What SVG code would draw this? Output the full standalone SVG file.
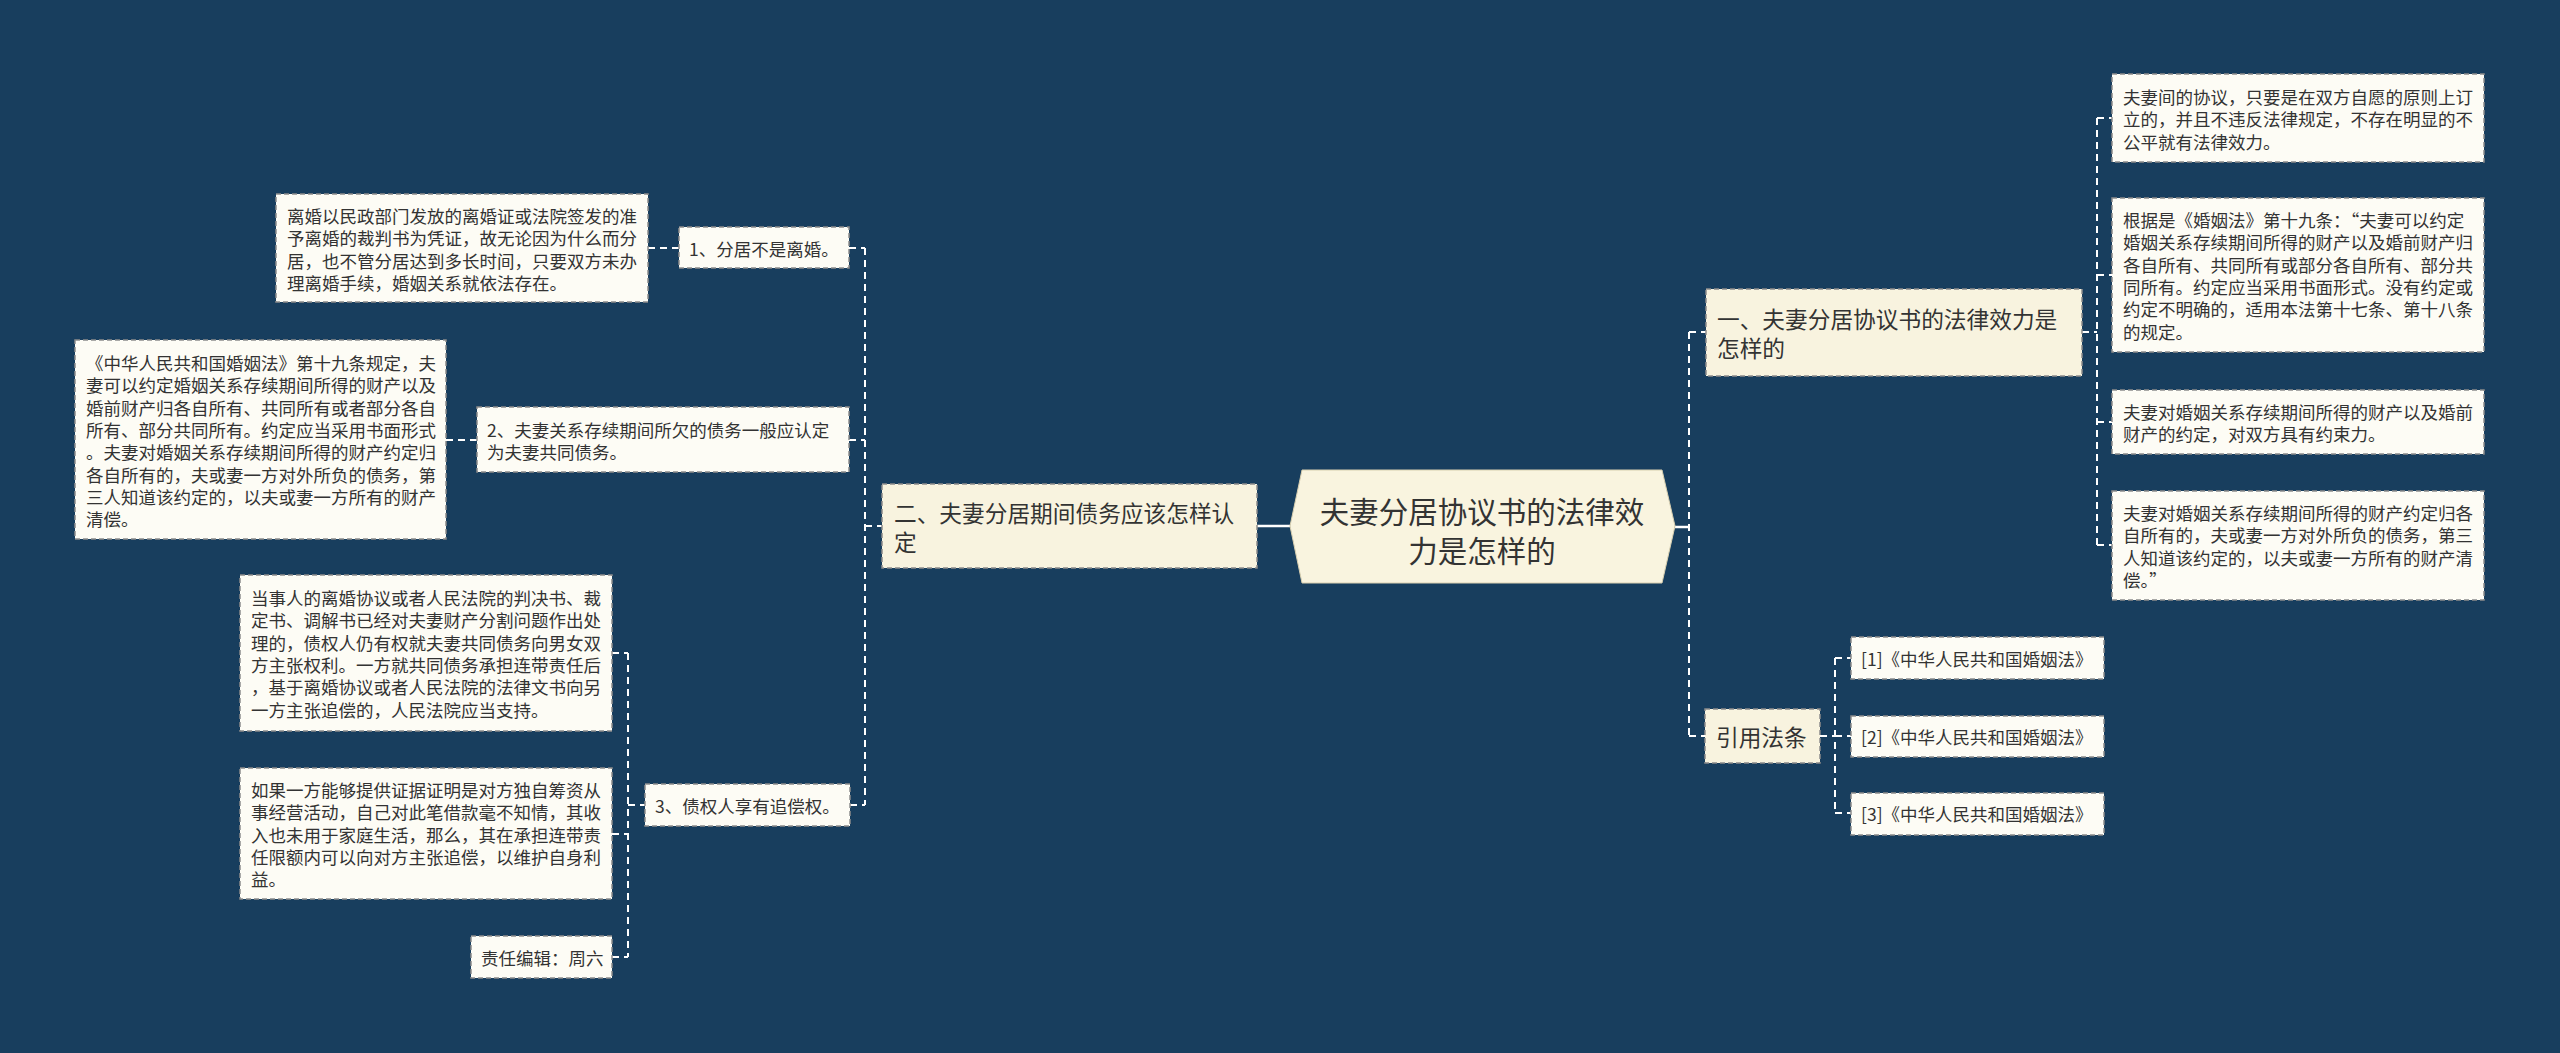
<svg xmlns="http://www.w3.org/2000/svg" width="2560" height="1053" viewBox="0 0 2560 1053">
<style>
.bg{fill:#183e5e}
.leaf{fill:#fdfcf5;stroke:#8c8c8c;stroke-width:1.5;stroke-dasharray:5 3}
.branch{fill:#f8f3df;stroke:#8c8c8c;stroke-width:1.5;stroke-dasharray:5 3}
.root{fill:#f9f4df;stroke:#d8cfb0;stroke-width:1}
text{font-family:"Noto Sans CJK SC","Noto Sans",sans-serif;fill:#333;dominant-baseline:central}
.t{font-size:17.5px}
.b{font-size:22.7px}
.r{font-size:29.5px}
.con path{fill:none;stroke:#ffffff;stroke-width:2;stroke-dasharray:7 5}
.con path.solid{stroke-dasharray:none;stroke-width:2.5}
</style>
<rect class="bg" x="0" y="0" width="2560" height="1053"/>
<g class="con" id="connectors">
<path d="M648 248H679"/>
<path d="M446 440H477"/>
<path d="M849 248H865M849 440H865M850 805H865M865 248V805M865 526H882"/>
<path class="solid" d="M1257 526H1290"/>
<path d="M612 653H628M612 834H628M612 957H628M628 653V957M628 805H645"/>
<path class="solid" d="M1675 527H1689"/>
<path d="M1689 332V736M1689 332H1706M1689 736H1705"/>
<path d="M2082 332H2097M2097 118V545M2097 118H2112M2097 275H2112M2097 422H2112M2097 545H2112"/>
<path d="M1820 736H1835M1835 658V813M1835 658H1851M1835 736H1851M1835 813H1851"/>
</g>
<g id="root">
<polygon class="root" points="1290,526 1302,470 1662,470 1675,526 1662,583 1302,583"/>
<text class="r" text-anchor="middle"><tspan x="1482" y="510">夫妻分居协议书的法律效</tspan><tspan x="1482" y="548.5">力是怎样的</tspan></text>
</g>
<g id="branch2">
<rect class="branch" x="882" y="484" width="375" height="84"/>
<text class="b" x="894"><tspan x="894" y="512">二、夫妻分居期间债务应该怎样认</tspan><tspan x="894" y="541">定</tspan></text>
</g>
<g id="sub1">
<rect class="leaf" x="679" y="227" width="170" height="41"/>
<text class="t" x="689" y="248">1、分居不是离婚。</text>
</g>
<g id="leaf1">
<rect class="leaf" x="276" y="194" width="372" height="108"/>
<text class="t"><tspan x="287" y="215">离婚以民政部门发放的离婚证或法院签发的准</tspan><tspan x="287" y="237.3">予离婚的裁判书为凭证，故无论因为什么而分</tspan><tspan x="287" y="259.6">居，也不管分居达到多长时间，只要双方未办</tspan><tspan x="287" y="281.9">理离婚手续，婚姻关系就依法存在。</tspan></text>
</g>
<g id="sub2">
<rect class="leaf" x="477" y="407" width="372" height="65"/>
<text class="t"><tspan x="487" y="429">2、夫妻关系存续期间所欠的债务一般应认定</tspan><tspan x="487" y="451.3">为夫妻共同债务。</tspan></text>
</g>
<g id="leaf2">
<rect class="leaf" x="75" y="340" width="371" height="199"/>
<text class="t"><tspan x="86" y="362">《中华人民共和国婚姻法》第十九条规定，夫</tspan><tspan x="86" y="384.3">妻可以约定婚姻关系存续期间所得的财产以及</tspan><tspan x="86" y="406.6">婚前财产归各自所有、共同所有或者部分各自</tspan><tspan x="86" y="428.9">所有、部分共同所有。约定应当采用书面形式</tspan><tspan x="86" y="451.2">。夫妻对婚姻关系存续期间所得的财产约定归</tspan><tspan x="86" y="473.5">各自所有的，夫或妻一方对外所负的债务，第</tspan><tspan x="86" y="495.8">三人知道该约定的，以夫或妻一方所有的财产</tspan><tspan x="86" y="518.1">清偿。</tspan></text>
</g>
<g id="sub3">
<rect class="leaf" x="645" y="784" width="205" height="42"/>
<text class="t" x="655" y="805">3、债权人享有追偿权。</text>
</g>
<g id="leaf3a">
<rect class="leaf" x="240" y="575" width="372" height="156"/>
<text class="t"><tspan x="251" y="597">当事人的离婚协议或者人民法院的判决书、裁</tspan><tspan x="251" y="619.3">定书、调解书已经对夫妻财产分割问题作出处</tspan><tspan x="251" y="641.6">理的，债权人仍有权就夫妻共同债务向男女双</tspan><tspan x="251" y="663.9">方主张权利。一方就共同债务承担连带责任后</tspan><tspan x="251" y="686.2">，基于离婚协议或者人民法院的法律文书向另</tspan><tspan x="251" y="708.5">一方主张追偿的，人民法院应当支持。</tspan></text>
</g>
<g id="leaf3b">
<rect class="leaf" x="240" y="768" width="372" height="131"/>
<text class="t"><tspan x="251" y="789">如果一方能够提供证据证明是对方独自筹资从</tspan><tspan x="251" y="811.3">事经营活动，自己对此笔借款毫不知情，其收</tspan><tspan x="251" y="833.6">入也未用于家庭生活，那么，其在承担连带责</tspan><tspan x="251" y="855.9">任限额内可以向对方主张追偿，以维护自身利</tspan><tspan x="251" y="878.2">益。</tspan></text>
</g>
<g id="editor">
<rect class="leaf" x="471" y="936" width="141" height="42"/>
<text class="t" x="481" y="957">责任编辑：周六</text>
</g>
<g id="branch1">
<rect class="branch" x="1706" y="289" width="376" height="87"/>
<text class="b"><tspan x="1717" y="318">一、夫妻分居协议书的法律效力是</tspan><tspan x="1717" y="347">怎样的</tspan></text>
</g>
<g id="r1">
<rect class="leaf" x="2112" y="74" width="372" height="88"/>
<text class="t"><tspan x="2123" y="96">夫妻间的协议，只要是在双方自愿的原则上订</tspan><tspan x="2123" y="118.3">立的，并且不违反法律规定，不存在明显的不</tspan><tspan x="2123" y="140.6">公平就有法律效力。</tspan></text>
</g>
<g id="r2">
<rect class="leaf" x="2112" y="198" width="372" height="154"/>
<text class="t"><tspan x="2123" y="219">根据是《婚姻法》第十九条：“夫妻可以约定</tspan><tspan x="2123" y="241.3">婚姻关系存续期间所得的财产以及婚前财产归</tspan><tspan x="2123" y="263.6">各自所有、共同所有或部分各自所有、部分共</tspan><tspan x="2123" y="285.9">同所有。约定应当采用书面形式。没有约定或</tspan><tspan x="2123" y="308.2">约定不明确的，适用本法第十七条、第十八条</tspan><tspan x="2123" y="330.5">的规定。</tspan></text>
</g>
<g id="r3">
<rect class="leaf" x="2112" y="390" width="372" height="64"/>
<text class="t"><tspan x="2123" y="411">夫妻对婚姻关系存续期间所得的财产以及婚前</tspan><tspan x="2123" y="433.3">财产的约定，对双方具有约束力。</tspan></text>
</g>
<g id="r4">
<rect class="leaf" x="2112" y="491" width="372" height="109"/>
<text class="t"><tspan x="2123" y="512">夫妻对婚姻关系存续期间所得的财产约定归各</tspan><tspan x="2123" y="534.3">自所有的，夫或妻一方对外所负的债务，第三</tspan><tspan x="2123" y="556.6">人知道该约定的，以夫或妻一方所有的财产清</tspan><tspan x="2123" y="578.9">偿。”</tspan></text>
</g>
<g id="branch3">
<rect class="branch" x="1705" y="709" width="115" height="54"/>
<text class="b" x="1716" y="736">引用法条</text>
</g>
<g id="ref1">
<rect class="leaf" x="1851" y="637" width="253" height="42"/>
<text class="t" x="1861" y="658">[1]《中华人民共和国婚姻法》</text>
</g>
<g id="ref2">
<rect class="leaf" x="1851" y="716" width="253" height="41"/>
<text class="t" x="1861" y="736">[2]《中华人民共和国婚姻法》</text>
</g>
<g id="ref3">
<rect class="leaf" x="1851" y="793" width="253" height="42"/>
<text class="t" x="1861" y="813">[3]《中华人民共和国婚姻法》</text>
</g>
</svg>
